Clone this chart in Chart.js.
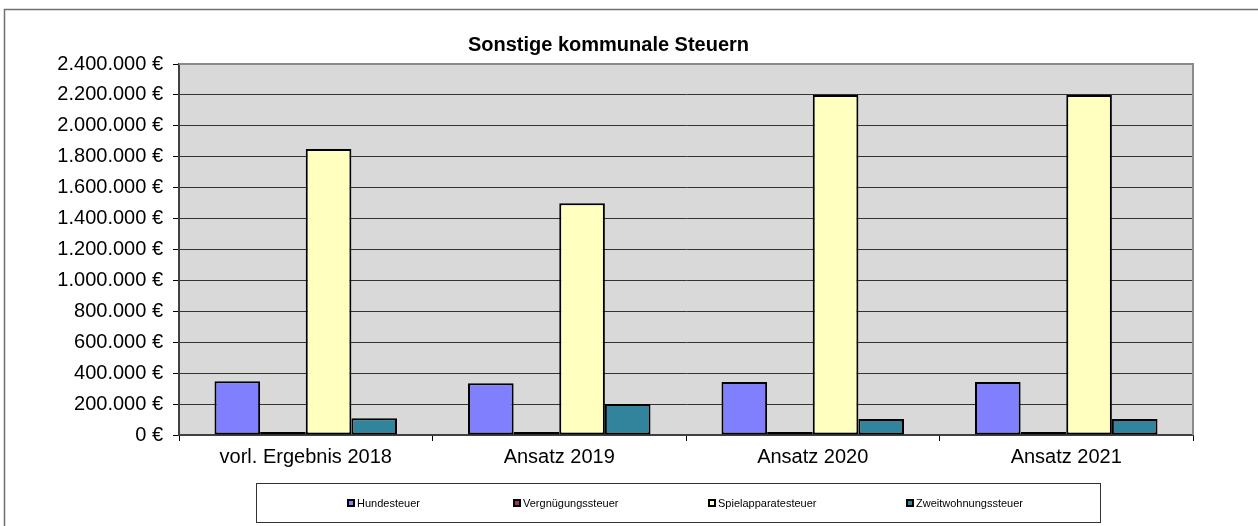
<!DOCTYPE html>
<html>
<head>
<meta charset="utf-8">
<script src="https://cdn.jsdelivr.net/npm/chart.js@4.4.1/dist/chart.umd.min.js"></script>
<style>
  html, body { margin: 0; padding: 0; background: #fff; }
  #wrap { width: 1258px; height: 526px; position: relative; }
  canvas { display: block; }
</style>
</head>
<body>
<div id="wrap"><canvas id="c" width="1258" height="526"></canvas></div>
<script>
// ---- Data ----
const categories = ['vorl. Ergebnis 2018', 'Ansatz 2019', 'Ansatz 2020', 'Ansatz 2021'];
const seriesNames = ['Hundesteuer', 'Vergnügungssteuer', 'Spielapparatesteuer', 'Zweitwohnungssteuer'];
const hundesteuer = [348000, 335000, 343000, 343000];
const vergnuegungssteuer = [20000, 20000, 20000, 20000];
const spielapparatesteuer = [1850000, 1500000, 2200000, 2200000];
const zweitwohnungssteuer = [108000, 200000, 103000, 103000];
const yMin = 0;
const yMax = 2400000;
const yStep = 200000;
const chartTitle = 'Sonstige kommunale Steuern';

const colors = ['#8080FF', '#993366', '#FFFFC0', '#31849B'];
const FONT = '"Liberation Sans", Arial, Helvetica, sans-serif';

function fmtEuro(v) {
  return String(Math.round(v)).replace(/\B(?=(\d{3})+(?!\d))/g, '.') + ' €';
}

const decor = {
  id: 'decor',
  beforeDraw(chart) {
    const { ctx, chartArea: a } = chart;
    ctx.save();
    ctx.fillStyle = '#ffffff';
    ctx.fillRect(0, 0, chart.width, chart.height);
    ctx.fillStyle = '#D9D9D9';
    ctx.fillRect(a.left, a.top, a.right - a.left, a.bottom - a.top);
    ctx.restore();
  },
  afterDraw(chart) {
    const { ctx, chartArea: a } = chart;
    ctx.save();
    // plot area top/right border
    ctx.strokeStyle = '#8a8a8a';
    ctx.lineWidth = 2;
    ctx.beginPath();
    ctx.moveTo(a.left, a.top);
    ctx.lineTo(a.right, a.top);
    ctx.lineTo(a.right, a.bottom);
    ctx.stroke();

    // outer chart border (top & left visible)
    ctx.strokeStyle = '#707070';
    ctx.lineWidth = 1.5;
    ctx.beginPath();
    ctx.moveTo(4.5, chart.height + 5);
    ctx.lineTo(4.5, 9.5);
    ctx.lineTo(chart.width + 5, 9.5);
    ctx.stroke();

    // title
    ctx.fillStyle = '#000';
    ctx.font = 'bold 20px ' + FONT;
    ctx.textAlign = 'center';
    ctx.textBaseline = 'middle';
    ctx.fillText(chartTitle, 608.5, 45);

    // legend box
    ctx.strokeStyle = '#333';
    ctx.lineWidth = 1;
    ctx.strokeRect(256.5, 483.5, 844, 39);
    const itemX = [347, 513, 708, 906];
    const cy = 503;
    ctx.font = '11px ' + FONT;
    ctx.textAlign = 'left';
    ctx.textBaseline = 'middle';
    chart.data.datasets.forEach((ds, i) => {
      const x = itemX[i];
      ctx.fillStyle = '#000';
      ctx.fillRect(x, cy - 4, 8, 8);
      ctx.fillStyle = ds.backgroundColor;
      ctx.fillRect(x + 2, cy - 2, 4, 4);
      ctx.fillStyle = '#000';
      ctx.fillText(ds.label, x + 10, cy + 0.5);
    });
    ctx.restore();
  }
};

const seriesData = [hundesteuer, vergnuegungssteuer, spielapparatesteuer, zweitwohnungssteuer];

new Chart(document.getElementById('c'), {
  type: 'bar',
  data: {
    labels: categories,
    datasets: seriesNames.map((n, i) => ({
      label: n,
      data: seriesData[i],
      backgroundColor: colors[i],
      borderColor: '#000',
      borderWidth: 2,
      borderSkipped: false,
      categoryPercentage: 0.72,
      barPercentage: 1.0
    }))
  },
  options: {
    responsive: false,
    animation: false,
    devicePixelRatio: 1,
    layout: { padding: { left: 0, right: 65, top: 64, bottom: 0 } },
    plugins: {
      legend: { display: false },
      title: { display: false },
      tooltip: { enabled: false }
    },
    scales: {
      x: {
        offset: true,
        grid: {
          display: true,
          offset: true,
          drawOnChartArea: false,
          drawTicks: true,
          tickLength: 6,
          color: '#000',
          tickColor: '#000'
        },
        border: { display: true, color: '#404040', width: 2 },
        ticks: {
          color: '#000',
          font: { family: FONT, size: 20 },
          padding: 4,
          maxRotation: 0,
          autoSkip: false
        },
        afterFit(scale) { scale.height = 91; }
      },
      y: {
        min: yMin,
        max: yMax,
        grid: {
          color: '#333',
          lineWidth: 1,
          drawTicks: true,
          tickLength: 6,
          tickColor: '#000'
        },
        border: { display: true, color: '#404040', width: 2 },
        ticks: {
          stepSize: yStep,
          color: '#000',
          font: { family: FONT, size: 20 },
          padding: 10,
          callback: (v) => fmtEuro(v)
        },
        afterFit(scale) { scale.width = 179; }
      }
    }
  },
  plugins: [decor]
});
</script>
</body>
</html>
